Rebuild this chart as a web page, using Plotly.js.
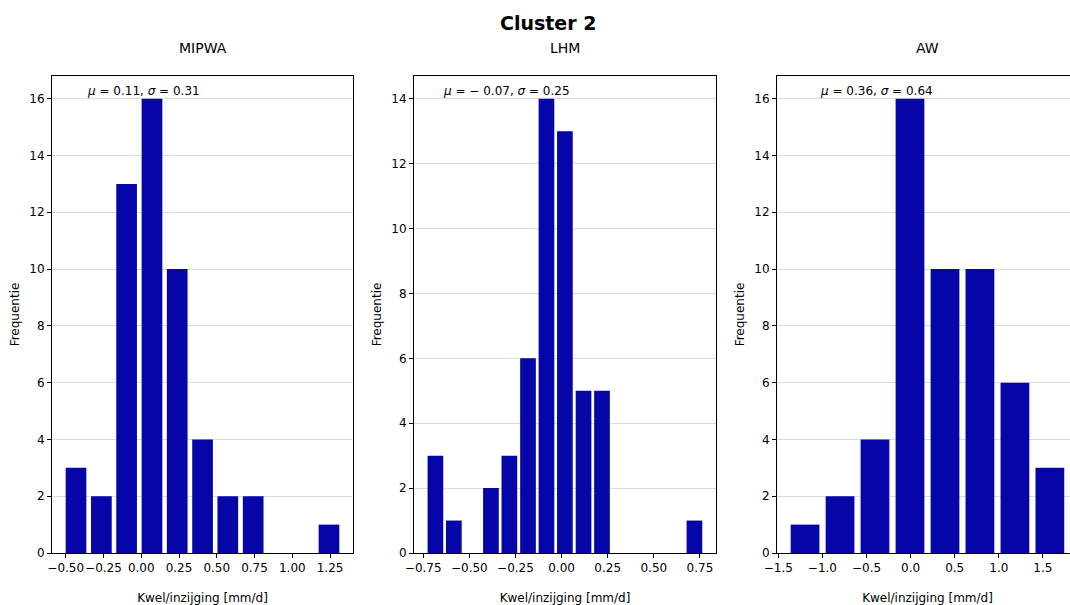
<!DOCTYPE html>
<html>
<head>
<meta charset="utf-8">
<script src="https://cdn.plot.ly/plotly-3.0.1.min.js"></script>
<style>
  html, body { margin: 0; padding: 0; overflow: hidden; background: #fff; }
  #chart { width: 1100px; height: 605px; }
</style>
</head>
<body>
<div id="chart"></div>
<script>
// Histogram bins (centres) and counts of Kwel/inzijging for Cluster 2, per model
const mipwaCenters = [-0.432, -0.264, -0.097, 0.071, 0.238, 0.406, 0.573, 0.741, 0.908, 1.076, 1.243];
const mipwaCounts  = [3, 2, 13, 16, 10, 4, 2, 2, 0, 0, 1];

const lhmCenters = [-0.684, -0.584, -0.483, -0.383, -0.283, -0.182, -0.082, 0.018, 0.119, 0.219, 0.319, 0.420, 0.520, 0.620, 0.720];
const lhmCounts  = [3, 1, 0, 2, 3, 6, 14, 13, 5, 5, 0, 0, 0, 0, 1];

const awCenters = [-1.197, -0.800, -0.404, -0.007, 0.390, 0.786, 1.183, 1.579];
const awCounts  = [1, 2, 4, 16, 10, 10, 6, 3];

const panelTitles = ['MIPWA', 'LHM', 'AW'];
const statLabels = [
  '<i>μ</i> = 0.11, <i>σ</i> = 0.31',
  '<i>μ</i> = − 0.07, <i>σ</i> = 0.25',
  '<i>μ</i> = 0.36, <i>σ</i> = 0.64'
];

// drawn bar widths (bin width × rwidth)
const barWidths = [0.137, 0.085, 0.326];

const W = 1100, H = 605;
const FONT = 'DejaVu Sans, Liberation Sans, sans-serif';
const barColor = '#0606a8';

const px = v => v / W;
const py = v => 1 - v / H;

const panels = [
  {x: mipwaCenters, y: mipwaCounts, left: 52,  right: 353,  xr: [-0.591, 1.402], yr: [0, 16.8], dtick: 0.25, fmt: '.2f', t0: -0.5},
  {x: lhmCenters,   y: lhmCounts,   left: 414, right: 716,  xr: [-0.800, 0.837], yr: [0, 14.7], dtick: 0.25, fmt: '.2f', t0: -0.75},
  {x: awCenters,    y: awCounts,    left: 777, right: 1078, xr: [-1.515, 1.898], yr: [0, 16.8], dtick: 0.5,  fmt: '.1f', t0: -1.5}
];
const plotTop = 76, plotBottom = 553;

const traces = [];
const layout = {
  width: W, height: H,
  margin: {l: 0, r: 0, t: 0, b: 0},
  paper_bgcolor: '#fff', plot_bgcolor: '#fff',
  font: {family: FONT, size: 12, color: '#000'},
  showlegend: false,
  hovermode: false,
  annotations: [
    {text: '<b>Cluster 2</b>', xref: 'paper', yref: 'paper', x: px(548), y: py(23),
     xanchor: 'center', yanchor: 'middle', showarrow: false, font: {size: 19, family: FONT}}
  ]
};

panels.forEach((p, i) => {
  const n = i === 0 ? '' : String(i + 1);
  traces.push({
    type: 'bar', x: p.x, y: p.y, width: barWidths[i],
    xaxis: 'x' + n, yaxis: 'y' + n,
    marker: {color: barColor, line: {width: 0}}
  });
  const axBase = {
    showline: true, linecolor: '#000', linewidth: 1, mirror: true,
    ticks: 'outside', ticklen: 4, tickcolor: '#000', tickwidth: 1,
    zeroline: false, tickfont: {size: 12, family: FONT}, fixedrange: true,
    tickangle: 0
  };
  layout['xaxis' + n] = Object.assign({}, axBase, {
    domain: [px(p.left), px(p.right)], range: p.xr, anchor: 'y' + n,
    tickmode: 'linear', tick0: p.t0, dtick: p.dtick, tickformat: p.fmt,
    showgrid: false,
    title: {text: 'Kwel/inzijging [mm/d]', font: {size: 12, family: FONT}, standoff: 19}
  });
  layout['yaxis' + n] = Object.assign({}, axBase, {
    domain: [py(plotBottom), py(plotTop)], range: p.yr, anchor: 'x' + n,
    tickmode: 'linear', tick0: 0, dtick: 2,
    showgrid: true, gridcolor: '#dcdcdc', gridwidth: 1,
    title: {text: 'Frequentie', font: {size: 12, family: FONT}, standoff: 7}
  });
  layout.annotations.push({
    text: panelTitles[i], xref: 'paper', yref: 'paper',
    x: px((p.left + p.right) / 2), y: py(48), xanchor: 'center', yanchor: 'middle',
    showarrow: false, font: {size: 14, family: FONT}
  });
});

// μ / σ labels near the top of each panel
const statCentres = [143.5, 506.5, 876];
statLabels.forEach((s, i) => {
  layout.annotations.push({
    text: s, xref: 'paper', yref: 'paper', x: px(statCentres[i]), y: py(91),
    xanchor: 'center', yanchor: 'middle', showarrow: false,
    font: {size: 12, family: FONT}
  });
});

Plotly.newPlot('chart', traces, layout, {displayModeBar: false, staticPlot: true});
</script>
</body>
</html>
